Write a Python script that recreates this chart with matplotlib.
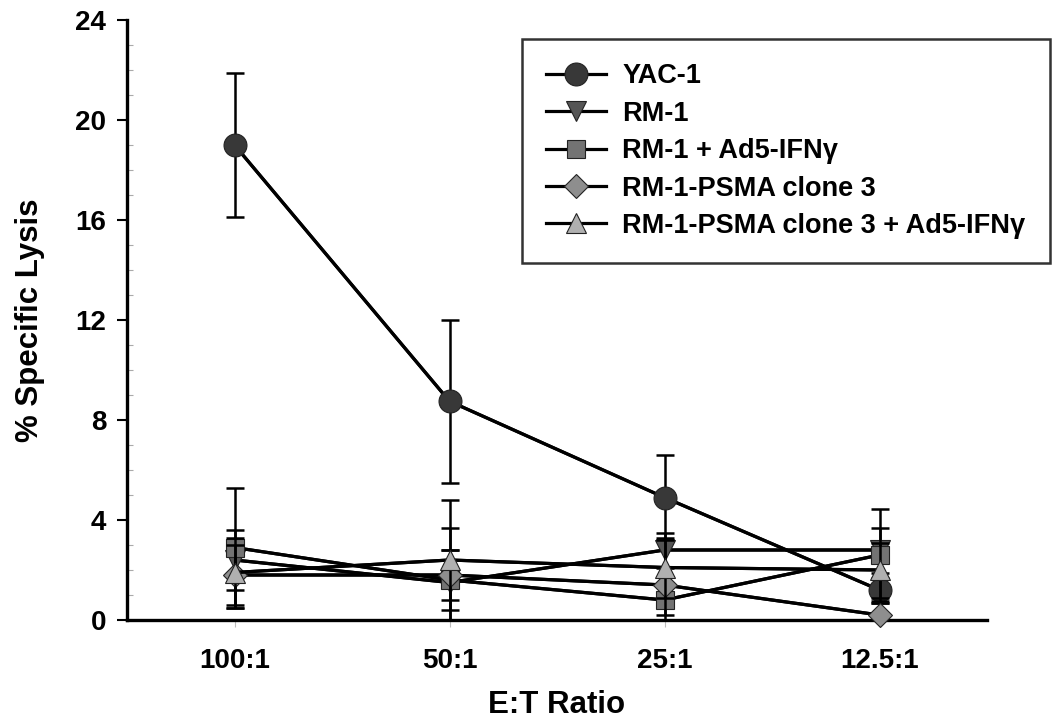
import matplotlib
matplotlib.use("Agg")
import matplotlib.pyplot as plt
from matplotlib.ticker import MultipleLocator

plt.rcParams['font.family'] = ['Liberation Sans', 'DejaVu Sans']
plt.rcParams['font.weight'] = 'bold'

ratios = ['100:1', '50:1', '25:1', '12.5:1']

yac1 = [19.0, 8.75, 4.9, 1.2]
yac1_err = [2.9, 3.25, 1.7, 0.5]
rm1 = [2.4, 1.5, 2.8, 2.8]
rm1_err = [1.2, 2.2, 0.7, 0.9]
rm1_ifn = [2.9, 1.6, 0.8, 2.6]
rm1_ifn_err = [2.4, 1.2, 0.6, 1.85]
psma = [1.8, 1.8, 1.4, 0.2]
psma_err = [1.2, 1.0, 1.8, 0.5]
psma_ifn = [1.9, 2.4, 2.1, 2.0]
psma_ifn_err = [1.4, 2.4, 1.2, 1.1]

series = [
    ('YAC-1', yac1, yac1_err, 'o', '#383838', 16.5),
    ('RM-1', rm1, rm1_err, 'v', '#555555', 14),
    ('RM-1 + Ad5-IFN\u03b3', rm1_ifn, rm1_ifn_err, 's', '#737373', 13.5),
    ('RM-1-PSMA clone 3', psma, psma_err, 'D', '#8e8e8e', 12),
    ('RM-1-PSMA clone 3 + Ad5-IFN\u03b3', psma_ifn, psma_ifn_err, '^', '#b0b0b0', 14),
]

fig = plt.figure(figsize=(10.54, 7.28), dpi=100)
ax = fig.add_axes([127/1054, 1 - 620/728, (987 - 127)/1054, 600/728])

x = list(range(len(ratios)))
for i, (name, vals, errs, mk, col, ms) in enumerate(series):
    ax.errorbar(x, vals, yerr=errs, color='black', lw=2.3, elinewidth=1.8,
                capsize=6.5, capthick=1.8, zorder=2 + i)
    ax.plot(x, vals, color='black', lw=2.3, marker=mk, markersize=ms,
            markerfacecolor=col, markeredgecolor='#222222', markeredgewidth=0.8,
            label=name, zorder=3 + i, clip_on=False)

ax.set_xlim(-0.5, 3.5)
ax.set_ylim(0, 24)
ax.yaxis.set_major_locator(MultipleLocator(4))
ax.yaxis.set_minor_locator(MultipleLocator(1))
ax.set_xticks(x)
ax.set_xticklabels(ratios)

for s in ['top', 'right']:
    ax.spines[s].set_visible(False)
for s in ['left', 'bottom']:
    ax.spines[s].set_linewidth(2.4)

ax.tick_params(axis='y', which='major', direction='out', length=7, width=1.5,
               labelsize=20, pad=8)
ax.tick_params(axis='y', which='minor', direction='in', length=4, width=0.8,
               color='#aaaaaa')
ax.tick_params(axis='x', direction='out', length=5, width=0.8, color='#bbbbbb',
               labelsize=20, pad=15)

ax.set_ylabel('% Specific Lysis', fontsize=22.5, fontweight='bold', labelpad=22)
ax.set_xlabel('E:T Ratio', fontsize=22.5, fontweight='bold', labelpad=12)

leg = ax.legend(loc='upper left', bbox_to_anchor=(522/1054, 1 - 39/728),
                bbox_transform=fig.transFigure, borderaxespad=0,
                frameon=True, fancybox=False, edgecolor='black',
                handlelength=2.2, handletextpad=0.6, labelspacing=0.42,
                borderpad=0.9, prop={'weight': 'bold', 'size': 19.5})
leg.get_frame().set_linewidth(1.8)

fig.savefig('out.png', dpi=100)
